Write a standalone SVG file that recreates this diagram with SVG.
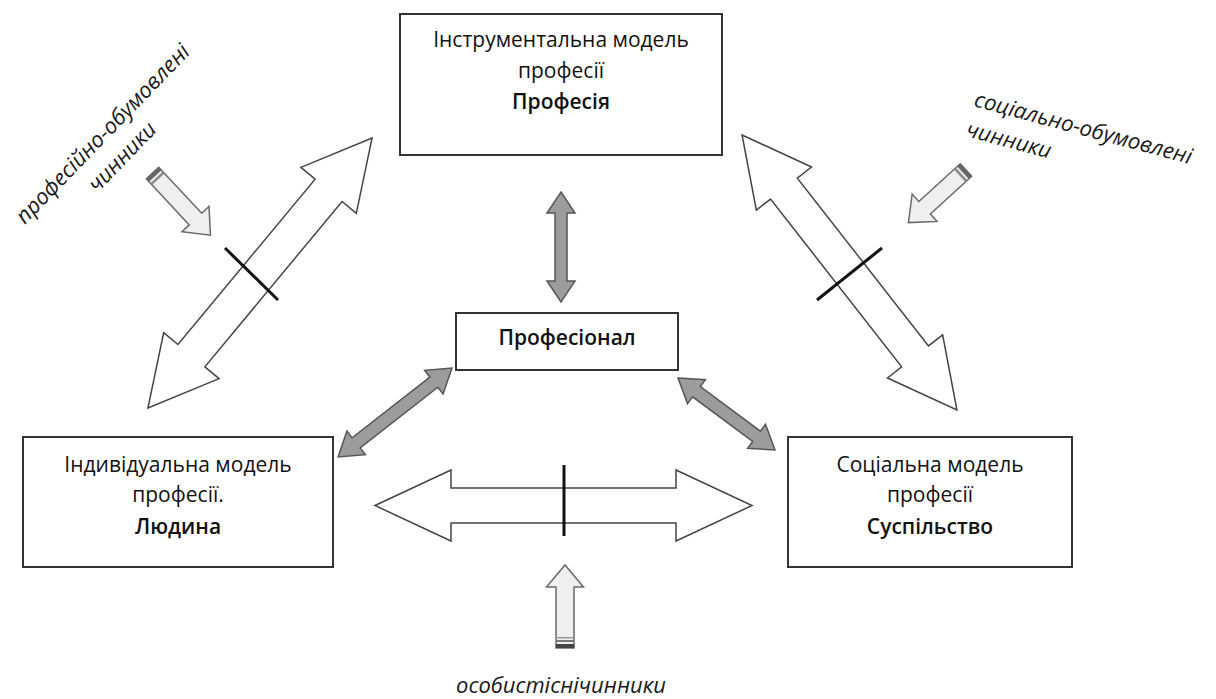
<svg xmlns="http://www.w3.org/2000/svg" width="1216" height="699" viewBox="0 0 1216 699">
<defs>
<style>
.box{fill:#fff;stroke:#333;stroke-width:2}
.t{font-family:"Open Sans","Noto Sans","Liberation Sans",sans-serif;font-size:21px;fill:#111;text-anchor:middle}
.b{font-weight:600}
.it{font-family:"Open Sans","Noto Sans","Liberation Sans",sans-serif;font-style:italic;font-size:22px;fill:#1a1a1a}
.big{fill:#fff;stroke:#444;stroke-width:1.5;stroke-linejoin:miter}
.grey{fill:#9c9c9c;stroke:#555;stroke-width:1.5}
.small{fill:#efefef;stroke:#6a6a6a;stroke-width:1.5}
.tick{stroke:#111;stroke-width:3;fill:none}
</style>
</defs>
<rect width="1216" height="699" fill="#fff"/>

<g id="connectors">
  <path class="big" transform="translate(260,273) rotate(-50.3)" d="M -175.4,0 L -107.4,-36 L -107.4,-17.5 L 107.4,-17.5 L 107.4,-36 L 175.4,0 L 107.4,36 L 107.4,17.5 L -107.4,17.5 L -107.4,36 Z"/>
  <path class="big" transform="translate(849.5,272.5) rotate(52)" d="M -174.5,0 L -106.5,-35 L -106.5,-17 L 106.5,-17 L 106.5,-35 L 174.5,0 L 106.5,35 L 106.5,17 L -106.5,17 L -106.5,35 Z"/>
  <path class="big" transform="translate(563.5,505.5)" d="M -188.5,0 L -112.5,-35.5 L -112.5,-17.5 L 112.5,-17.5 L 112.5,-35.5 L 188.5,0 L 112.5,35.5 L 112.5,17.5 L -112.5,17.5 L -112.5,35.5 Z"/>
  <line class="tick" x1="225" y1="248" x2="278" y2="300"/>
  <line class="tick" x1="817" y1="300" x2="882" y2="248"/>
  <line class="tick" x1="564" y1="465" x2="564" y2="536"/>
  <path class="grey" transform="translate(561,247) rotate(90)" d="M -55,0 L -34,-14 L -34,-6 L 34,-6 L 34,-14 L 55,0 L 34,14 L 34,6 L -34,6 L -34,14 Z"/>
  <path class="grey" transform="translate(395,412.5) rotate(-38)" d="M -72.3,0 L -49.3,-15 L -49.3,-6.5 L 49.3,-6.5 L 49.3,-15 L 72.3,0 L 49.3,15 L 49.3,6.5 L -49.3,6.5 L -49.3,15 Z"/>
  <path class="grey" transform="translate(726.5,414) rotate(36.6)" d="M -60.4,0 L -37.4,-15 L -37.4,-6.5 L 37.4,-6.5 L 37.4,-15 L 60.4,0 L 37.4,15 L 37.4,6.5 L -37.4,6.5 L -37.4,15 Z"/>
  <g transform="translate(152.5,173) rotate(47)">
    <path class="small" d="M 0,-8.5 L 63,-8.5 L 63,-18.5 L 85,0 L 63,18.5 L 63,8.5 L 0,8.5 Z"/>
    <rect x="0" y="-8.5" width="4" height="17" fill="#666"/>
    <rect x="6" y="-8.5" width="2.5" height="17" fill="#8a8a8a"/>
  </g>
  <g transform="translate(966,170) rotate(137.6)">
    <path class="small" d="M 0,-8.5 L 56,-8.5 L 56,-18.5 L 78,0 L 56,18.5 L 56,8.5 L 0,8.5 Z"/>
    <rect x="0" y="-8.5" width="4" height="17" fill="#666"/>
    <rect x="6" y="-8.5" width="2.5" height="17" fill="#8a8a8a"/>
  </g>
  <g transform="translate(565,648) rotate(-90)">
    <path class="small" d="M 0,-9 L 61,-9 L 61,-18.5 L 83,0 L 61,18.5 L 61,9 L 0,9 Z"/>
    <rect x="0" y="-9" width="4" height="18" fill="#444"/>
    <rect x="6" y="-9" width="2" height="18" fill="#777"/>
    <rect x="9.5" y="-9" width="1.5" height="18" fill="#999"/>
  </g>
</g>

<g id="node-instrumental">
  <rect class="box" x="400" y="14" width="322" height="141"/>
  <text class="t" x="561" y="47">Інструментальна модель</text>
  <text class="t" x="561" y="78">професії</text>
  <text class="t b" x="561" y="109">Професія</text>
</g>

<g id="node-professional">
  <rect class="box" x="456" y="313" width="222" height="57"/>
  <text class="t b" x="567" y="345">Професіонал</text>
</g>

<g id="node-individual">
  <rect class="box" x="23" y="437" width="310" height="130"/>
  <text class="t" x="178" y="472">Індивідуальна модель</text>
  <text class="t" x="178" y="502">професії.</text>
  <text class="t b" x="178" y="534">Людина</text>
</g>

<g id="node-social">
  <rect class="box" x="788" y="437" width="284" height="130"/>
  <text class="t" x="930" y="472">Соціальна модель</text>
  <text class="t" x="930" y="502">професії</text>
  <text class="t b" x="930" y="534">Суспільство</text>
</g>

<g id="label-professional-factors" transform="translate(108,139) rotate(-46)">
  <text class="it" x="0" y="0" text-anchor="middle">професійно-обумовлені</text>
  <text class="it" x="-3" y="30" text-anchor="middle">чинники</text>
</g>

<g id="label-social-factors" transform="translate(973,106) rotate(15)">
  <text class="it" x="0" y="0">соціально-обумовлені</text>
  <text class="it" x="0" y="31">чинники</text>
</g>

<g id="label-personal-factors">
  <text class="it" x="561" y="693" text-anchor="middle">особистіснічинники</text>
</g>
</svg>
